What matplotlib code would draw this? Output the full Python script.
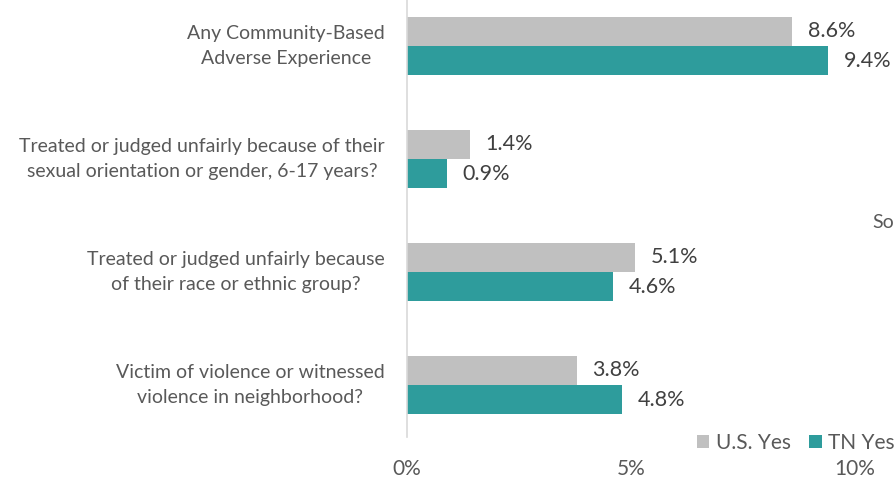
import matplotlib.pyplot as plt
import numpy as np

plt.rcParams['font.family'] = ['Lato', 'DejaVu Sans']

categories = ["Any Community-Based\nAdverse Experience",
              "Treated or judged unfairly because of their\nsexual orientation or gender, 6-17 years?",
              "Treated or judged unfairly because\nof their race or ethnic group?",
              "Victim of violence or witnessed\nviolence in neighborhood?"]
us_yes = [8.6, 1.4, 5.1, 3.8]
tn_yes = [9.4, 0.9, 4.6, 4.8]
ticks = [0, 5, 10]
tick_labels = ["0%", "5%", "10%"]

gray = "#c0c0c0"
teal = "#2e9c9c"
txt = "#595959"
val = "#404040"

fig = plt.figure(figsize=(8.95, 4.79), dpi=100)
ax = fig.add_axes([407/895, 42/479, 448/895, 437/479])

y = np.arange(len(categories))
h = 0.257
ax.barh(y - h/2, us_yes, height=h, color=gray, label="U.S. Yes")
ax.barh(y + h/2, tn_yes, height=h, color=teal, label="TN Yes")

for i in range(len(categories)):
    ax.annotate(f"{us_yes[i]:.1f}%", (us_yes[i], y[i] - h/2), xytext=(11, 0),
                textcoords="offset points", va="center", ha="left",
                fontsize=15.5, color=val)
    ax.annotate(f"{tn_yes[i]:.1f}%", (tn_yes[i], y[i] + h/2), xytext=(11, 0),
                textcoords="offset points", va="center", ha="left",
                fontsize=15.5, color=val)
    ax.annotate(categories[i], (0, y[i]), xytext=(-16, 0),
                textcoords="offset points", va="center", ha="right",
                multialignment="center", fontsize=14, color=txt,
                linespacing=1.55)

ax.set_xlim(0, 10)
ax.set_ylim(3 + 0.46, -0.407)
ax.set_yticks([])
ax.set_xticks(ticks)
ax.set_xticklabels(tick_labels, fontsize=15, color=txt)
ax.tick_params(axis="x", length=0, pad=16)
for s in ["top", "right", "bottom"]:
    ax.spines[s].set_visible(False)
ax.spines["left"].set_color("#d9d9d9")
ax.spines["left"].set_linewidth(1.2)

fig.text(872/895, 1 - 222/479, "So", fontsize=14, color=txt, va="center", ha="left")

fig.legend(loc="lower left", bbox_to_anchor=(697/895, 1 - 453/479), ncol=2,
           frameon=False, fontsize=15, handlelength=0.6, handleheight=0.6,
           handletextpad=0.3, columnspacing=0.9, labelcolor=txt,
           borderaxespad=0, borderpad=0)

fig.savefig("out.png", dpi=100)
